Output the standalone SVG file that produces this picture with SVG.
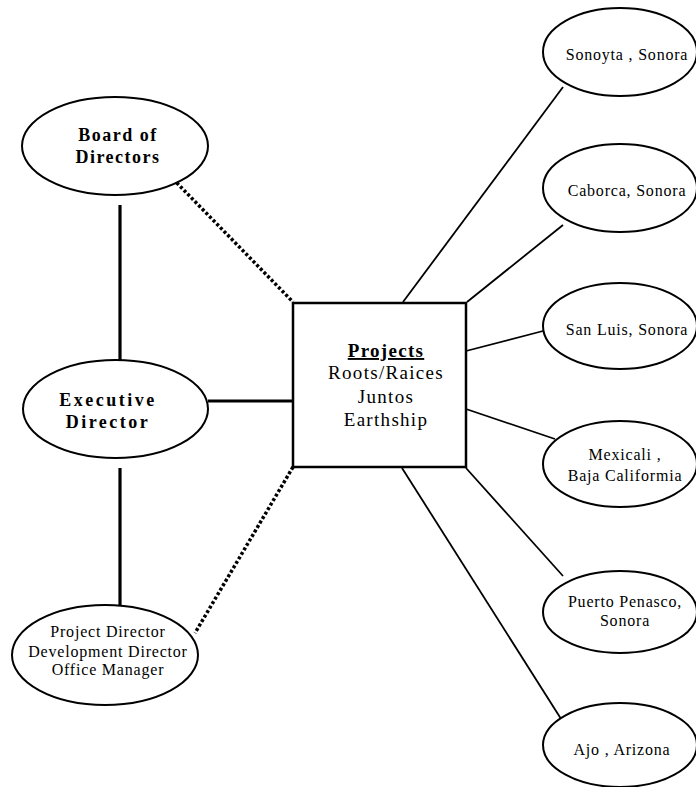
<svg xmlns="http://www.w3.org/2000/svg" width="696" height="787" viewBox="0 0 696 787">
<style>
.ell{fill:#fff;stroke:#000;stroke-width:2}
.box{fill:#fff;stroke:#000;stroke-width:2.5}
.thick{stroke:#000;stroke-width:3.2;fill:none}
.dot{stroke:#000;stroke-width:3.5;fill:none;stroke-dasharray:3 2.2}
.thin{stroke:#000;stroke-width:1.8;fill:none}
.b{font-family:"Liberation Serif","Times New Roman",serif;font-weight:bold;font-size:18px;letter-spacing:1.5px;text-anchor:middle;fill:#000}
.p{font-family:"Liberation Serif","Times New Roman",serif;font-size:19px;letter-spacing:1.3px;text-anchor:middle;fill:#000}
.s{font-family:"Liberation Serif","Times New Roman",serif;font-size:16px;letter-spacing:0.8px;text-anchor:middle;fill:#000}
</style>
<rect width="696" height="787" fill="#fff"/>
<g id="connectors">
<line class="thick" x1="120" y1="205" x2="120" y2="360"/>
<line class="thick" x1="120" y1="468" x2="120" y2="605"/>
<line class="thick" x1="208" y1="401" x2="293" y2="401"/>
<line class="dot" x1="173" y1="179" x2="293" y2="302"/>
<line class="dot" x1="293" y1="467" x2="195" y2="633"/>
<line class="thin" x1="403" y1="302" x2="563" y2="87"/>
<line class="thin" x1="467" y1="302" x2="563" y2="225"/>
<line class="thin" x1="466" y1="351" x2="543" y2="331"/>
<line class="thin" x1="466" y1="409" x2="555" y2="439"/>
<line class="thin" x1="466" y1="468" x2="563" y2="576"/>
<line class="thin" x1="402" y1="468" x2="563" y2="722"/>
</g>
<g id="board">
<ellipse class="ell" cx="115" cy="146" rx="93" ry="49"/>
<text class="b" x="118" y="141">Board of</text>
<text class="b" x="118" y="163">Directors</text>
</g>
<g id="executive">
<ellipse class="ell" cx="115.5" cy="409" rx="92.5" ry="49"/>
<text class="b" x="108" y="406" style="letter-spacing:2.5px">Executive</text>
<text class="b" x="108" y="428" style="letter-spacing:2.5px">Director</text>
</g>
<g id="staff">
<ellipse class="ell" cx="105" cy="655" rx="93" ry="50"/>
<text class="s" x="108" y="637">Project Director</text>
<text class="s" x="108" y="657">Development Director</text>
<text class="s" x="108" y="675">Office Manager</text>
</g>
<g id="projects">
<rect class="box" x="293" y="303" width="173" height="164"/>
<text class="p" x="386" y="357" font-weight="bold" text-decoration="underline">Projects</text>
<text class="p" x="386" y="379">Roots/Raices</text>
<text class="p" x="386" y="403">Juntos</text>
<text class="p" x="386" y="426">Earthship</text>
</g>
<g id="sonoyta">
<ellipse class="ell" cx="620" cy="52" rx="77" ry="44"/>
<text class="s" x="627" y="60">Sonoyta , Sonora</text>
</g>
<g id="caborca">
<ellipse class="ell" cx="620" cy="188" rx="77" ry="44"/>
<text class="s" x="627" y="196">Caborca, Sonora</text>
</g>
<g id="sanluis">
<ellipse class="ell" cx="620" cy="326" rx="77" ry="43"/>
<text class="s" x="627" y="335">San Luis, Sonora</text>
</g>
<g id="mexicali">
<ellipse class="ell" cx="620" cy="464" rx="77" ry="43"/>
<text class="s" x="625" y="460">Mexicali ,</text>
<text class="s" x="625" y="481">Baja Califormia</text>
</g>
<g id="penasco">
<ellipse class="ell" cx="620" cy="612" rx="77" ry="41"/>
<text class="s" x="625" y="607">Puerto Penasco,</text>
<text class="s" x="625" y="626">Sonora</text>
</g>
<g id="ajo">
<ellipse class="ell" cx="620" cy="745" rx="77" ry="42"/>
<text class="s" x="622" y="755">Ajo , Arizona</text>
</g>
</svg>
